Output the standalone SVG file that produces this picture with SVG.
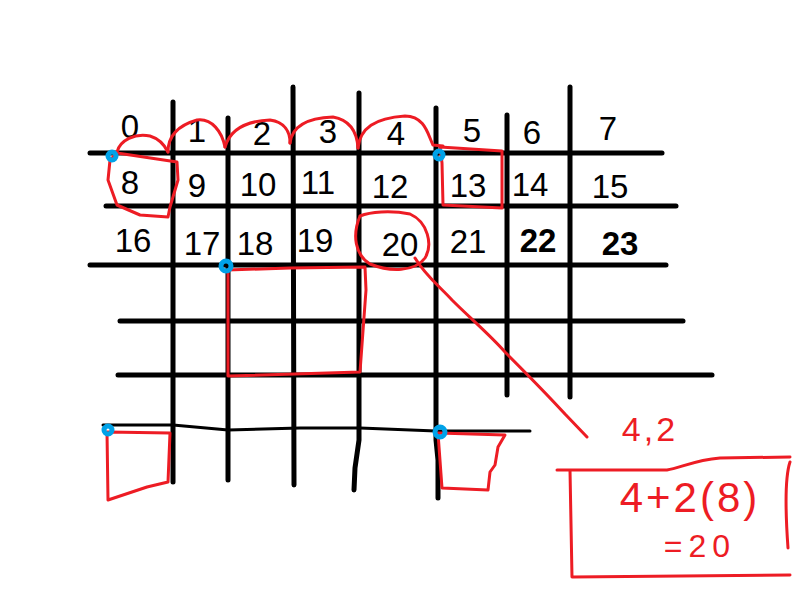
<svg xmlns="http://www.w3.org/2000/svg" width="800" height="600" viewBox="0 0 800 600">
<style>
.g{stroke:#000;stroke-width:5;stroke-linecap:round;fill:none}
.gt{stroke:#000;stroke-width:3;stroke-linecap:round;fill:none}
.r{stroke:#ed1c24;stroke-width:3;stroke-linejoin:round;stroke-linecap:round;fill:none}
.b{stroke:#00a2e8;stroke-width:5;fill:none}
.n{font-family:"Liberation Sans",Arial,sans-serif;font-size:33px;fill:#000;text-anchor:middle}
.nb{font-weight:bold}
.rt{font-family:"Liberation Sans",Arial,sans-serif;fill:#ed1c24;text-anchor:middle}
</style>
<rect width="800" height="600" fill="#fff"/>
<g id="grid">
<line class="g" x1="90" y1="153" x2="662" y2="153"/>
<line class="g" x1="106" y1="206" x2="676" y2="206"/>
<line class="g" x1="90" y1="265" x2="666" y2="265"/>
<line class="g" x1="120" y1="321" x2="683" y2="321"/>
<line class="g" x1="118" y1="375" x2="712" y2="375"/>
<polyline class="gt" points="103,425 173,425 228,430 300,428 360,428 436,431 530,431"/>
<line class="g" x1="173" y1="102" x2="173" y2="482"/>
<line class="g" x1="228" y1="118" x2="228" y2="480"/>
<line class="g" x1="293" y1="87" x2="294" y2="485"/>
<polyline class="g" points="359,93 359,440 355,468 354,490"/>
<polyline class="g" points="436,108 436,440 438,460 438,498"/>
<line class="g" x1="507" y1="115" x2="507" y2="395"/>
<line class="g" x1="570" y1="87" x2="570" y2="397"/>
</g>
<g id="numbers">
<text class="n" x="130" y="138">0</text>
<text class="n" x="197" y="142">1</text>
<text class="n" x="262" y="145">2</text>
<text class="n" x="328" y="143">3</text>
<text class="n" x="396" y="145">4</text>
<text class="n" x="472" y="142">5</text>
<text class="n" x="532" y="144">6</text>
<text class="n" x="608" y="140">7</text>
<text class="n" x="130" y="194">8</text>
<text class="n" x="197" y="197">9</text>
<text class="n" x="258" y="196">10</text>
<text class="n" x="318" y="194">11</text>
<text class="n" x="390" y="198">12</text>
<text class="n" x="468" y="197">13</text>
<text class="n" x="530" y="196">14</text>
<text class="n" x="610" y="198">15</text>
<text class="n" x="133" y="252">16</text>
<text class="n" x="202" y="255">17</text>
<text class="n" x="255" y="255">18</text>
<text class="n" x="315" y="252">19</text>
<text class="n" x="400" y="256">20</text>
<text class="n" x="468" y="253">21</text>
<text class="n nb" x="538" y="252">22</text>
<text class="n nb" x="620" y="255" font-size="38">23</text>
</g>
<g id="red-marks">
<path class="r" d="M117,152 C120,140 135,133 150,136 C160,139 165,146 168,152"/>
<path class="r" d="M168,152 C168,138 176,126 197,120 C212,118 222,132 225,147"/>
<path class="r" d="M225,147 C230,130 245,121 270,120 C285,122 290,132 290,143"/>
<path class="r" d="M290,143 C292,127 305,118 333,117 C350,120 357,132 358,148"/>
<path class="r" d="M358,148 C360,128 375,118 405,116 C425,116 428,135 433,145 L443,146"/>
<path id="box8" class="r" d="M117,153 L177,162 L178,180 L170,207 L168,217 L140,215 L117,205 L108,180 L110,160 Z"/>
<path id="box13" class="r" d="M440,147 L502,151 L502,208 L443,205 L442,163 Z"/>
<path id="circle20" class="r" d="M360,216 C370,212 390,210 410,214 C428,222 433,245 425,258 C415,272 390,272 370,264 C355,255 352,235 360,216"/>
<path id="leader" class="r" d="M415,258 C425,275 438,285 452,300 C470,318 490,335 505,352 C525,372 545,392 565,414 L587,437"/>
<path id="box18" class="r" d="M227,270 L290,268 L365,267 L366,290 L360,372 L228,376 L228,270"/>
<path id="boxbl" class="r" d="M107,432 L170,433 L168,482 L147,487 L108,500 Z"/>
<path id="boxbr" class="r" d="M438,433 L505,435 L498,447 L495,465 L490,472 L488,490 L442,488 Z"/>
<path id="calcbox" class="r" d="M557,470 L667,470 C680,468 695,460 720,458 L790,457 M570,470 L572,577 L790,575 M790,462 C784,480 786,520 788,548"/>
<text class="rt" x="650" y="441" font-size="34" letter-spacing="3">4,2</text>
<text class="rt" x="690" y="512" font-size="42" letter-spacing="3">4+2(8)</text>
<text class="rt" x="700" y="557" font-size="32" letter-spacing="6">=20</text>
</g>
<g id="blue-marks">
<circle class="b" cx="112" cy="156" r="4"/>
<circle class="b" cx="439" cy="155" r="4"/>
<circle class="b" cx="226" cy="266" r="5"/>
<circle class="b" cx="108" cy="430" r="4"/>
<circle class="b" cx="440" cy="432" r="5"/>
</g>
</svg>
